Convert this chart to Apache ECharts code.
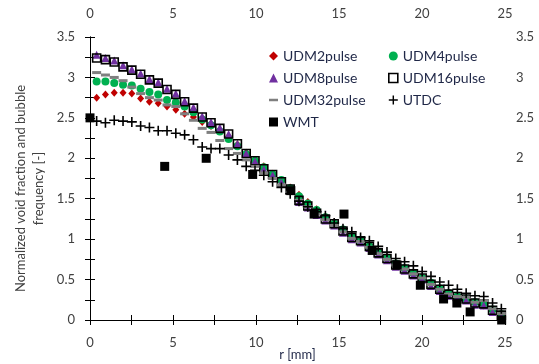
<!DOCTYPE html>
<html>
<head>
<meta charset="utf-8">
<script src="https://cdn.jsdelivr.net/npm/echarts@6/dist/echarts.min.js"></script>
<style>
  html, body { margin: 0; padding: 0; background: #fff; }
  #chart { width: 539px; height: 364px; }
</style>
</head>
<body>
<div id="chart"></div>
<script>
// radial positions [mm] of the UDM / UTDC profiles
const rUdm = [0.40, 0.93, 1.46, 1.99, 2.52, 3.05, 3.58, 4.11, 4.64, 5.17, 5.70, 6.23, 6.76, 7.29, 7.82, 8.35,
  8.88, 9.41, 9.94, 10.47, 11.00, 11.53, 12.06, 12.59, 13.12, 13.65, 14.18, 14.71, 15.24, 15.77, 16.30, 16.83,
  17.36, 17.89, 18.42, 18.95, 19.48, 20.01, 20.54, 21.07, 21.60, 22.13, 22.66, 23.19, 23.72, 24.25, 24.78];

const udm2 = [2.75, 2.79, 2.81, 2.81, 2.80, 2.74, 2.70, 2.68, 2.64, 2.60, 2.55, 2.51, 2.45, 2.40, 2.34, 2.27,
  2.17, 2.07, 1.98, 1.90, 1.81, 1.73, 1.64, 1.55, 1.46, 1.37, 1.28, 1.21, 1.12, 1.04, 0.99, 0.92,
  0.85, 0.78, 0.70, 0.64, 0.58, 0.52, 0.45, 0.38, 0.31, 0.27, 0.25, 0.20, 0.18, 0.11, 0.05];
const udm4 = [2.95, 2.95, 2.93, 2.91, 2.90, 2.86, 2.82, 2.79, 2.72, 2.69, 2.64, 2.57, 2.48, 2.41, 2.33, 2.24,
  2.15, 2.05, 1.97, 1.89, 1.80, 1.73, 1.63, 1.53, 1.44, 1.36, 1.27, 1.19, 1.12, 1.03, 0.98, 0.91,
  0.84, 0.77, 0.70, 0.64, 0.58, 0.52, 0.46, 0.39, 0.33, 0.29, 0.26, 0.22, 0.20, 0.13, 0.07];
const udm8 = [3.28, 3.24, 3.21, 3.15, 3.10, 3.05, 2.98, 2.94, 2.86, 2.80, 2.71, 2.63, 2.52, 2.45, 2.38, 2.30,
  2.18, 2.06, 1.96, 1.86, 1.79, 1.70, 1.61, 1.46, 1.39, 1.30, 1.23, 1.17, 1.08, 1.00, 0.96, 0.89,
  0.81, 0.74, 0.66, 0.61, 0.55, 0.50, 0.42, 0.36, 0.30, 0.27, 0.24, 0.19, 0.18, 0.10, 0.04];
const udm16 = [3.24, 3.22, 3.19, 3.13, 3.09, 3.04, 2.97, 2.93, 2.85, 2.79, 2.70, 2.62, 2.51, 2.44, 2.37, 2.30,
  2.18, 2.06, 1.97, 1.87, 1.80, 1.71, 1.62, 1.48, 1.41, 1.32, 1.25, 1.19, 1.10, 1.02, 0.98, 0.91,
  0.83, 0.76, 0.68, 0.63, 0.57, 0.52, 0.44, 0.38, 0.32, 0.29, 0.26, 0.21, 0.20, 0.12, 0.06];
const udm32 = [3.06, 3.03, 3.00, 2.96, 2.88, 2.80, 2.75, 2.72, 2.66, 2.64, 2.55, 2.47, 2.37, 2.32, 2.22, 2.12,
  2.06, 1.98, 1.90, 1.82, 1.75, 1.67, 1.58, 1.48, 1.40, 1.31, 1.24, 1.17, 1.09, 1.01, 0.97, 0.90,
  0.82, 0.75, 0.68, 0.63, 0.57, 0.52, 0.44, 0.38, 0.32, 0.29, 0.28, 0.22, 0.24, 0.14, 0.08];
const utdc = [2.46, 2.44, 2.47, 2.46, 2.45, 2.40, 2.38, 2.34, 2.34, 2.31, 2.29, 2.23, 2.14, 2.12, 2.12, 2.04,
  1.98, 1.90, 1.85, 1.79, 1.71, 1.64, 1.56, 1.47, 1.40, 1.34, 1.29, 1.20, 1.13, 1.09, 1.02, 0.98,
  0.91, 0.84, 0.76, 0.72, 0.67, 0.60, 0.54, 0.47, 0.43, 0.38, 0.33, 0.30, 0.29, 0.21, 0.14];

// wire-mesh sensor, own radial positions
const rWmt = [0.0, 4.5, 7.0, 9.8, 12.1, 13.5, 15.3, 17.0, 18.5, 19.9, 21.3, 22.1, 22.9, 24.8];
const wmt = [2.50, 1.90, 2.00, 1.80, 1.60, 1.31, 1.31, 0.86, 0.68, 0.43, 0.26, 0.21, 0.10, 0.00];

const xTicks = ['0', '5', '10', '15', '20', '25'];
const yTicks = ['0', '0.5', '1', '1.5', '2', '2.5', '3', '3.5'];

const pair = (xs, ys) => xs.map((x, i) => [x, ys[i]]);

const chart = echarts.init(document.getElementById('chart'));

const font = 'Lato, "Open Sans", sans-serif';
const tickColor = '#404040';
const legendColor = '#1f2747';

const plusPath = 'path://M4.2,0 H5.8 V4.2 H10 V5.8 H5.8 V10 H4.2 V5.8 H0 V4.2 H4.2 Z';
const dashIcon = 'path://M0,0 L0.01,0 Z M0,3.6 L10,3.6 L10,6.4 L0,6.4 Z M10,10 L9.99,10 Z';

const xLabel = (v) => (xTicks.includes(String(v)) ? String(v) : '');
const yLabel = (v) => {
  const s = String(Math.round(v * 100) / 100);
  return yTicks.includes(s) ? s : '';
};

const xBase = {
  type: 'value', min: 0, max: 25, interval: 2.5,
  axisLine: { lineStyle: { color: '#000', width: 1 } },
  axisTick: { inside: true, length: 5, lineStyle: { color: '#000' } },
  splitLine: { show: false },
  axisLabel: { color: tickColor, fontSize: 13, fontFamily: font, formatter: xLabel }
};
const yBase = {
  type: 'value', min: 0, max: 3.5, interval: 0.25,
  axisLine: { show: true, lineStyle: { color: '#000', width: 1 } },
  axisTick: { show: true, inside: true, length: 5, lineStyle: { color: '#000' } },
  splitLine: { show: false },
  axisLabel: { color: tickColor, fontSize: 13, fontFamily: font, formatter: yLabel }
};

const legendText = { color: legendColor, fontSize: 14, fontFamily: font };

const option = {
  backgroundColor: '#fff',
  animation: false,
  grid: { left: 90, right: 34, top: 37, bottom: 44, outerBoundsMode: 'none' },
  legend: [
    {
      orient: 'vertical', left: 264, top: 44, itemGap: 8,
      itemWidth: 9, itemHeight: 9, textStyle: legendText,
      data: [
        { name: 'UDM2pulse', icon: 'diamond' },
        { name: 'UDM8pulse', icon: 'triangle' },
        { name: 'UDM32pulse', icon: dashIcon },
        { name: 'WMT', icon: 'rect' }
      ]
    },
    {
      orient: 'vertical', left: 383, top: 44, itemGap: 8,
      itemWidth: 9, itemHeight: 9, textStyle: legendText,
      data: [
        { name: 'UDM4pulse', icon: 'circle' },
        { name: 'UDM16pulse', icon: 'rect' },
        { name: 'UTDC', icon: plusPath }
      ]
    }
  ],
  xAxis: [
    Object.assign({}, xBase, {
      position: 'bottom',
      name: 'r [mm]', nameLocation: 'middle', nameGap: 28, nameMoveOverlap: false,
      nameTextStyle: { color: legendColor, fontSize: 13, fontFamily: font },
      axisLabel: Object.assign({}, xBase.axisLabel, { margin: 16 })
    }),
    Object.assign({}, xBase, {
      position: 'top',
      axisLabel: Object.assign({}, xBase.axisLabel, { margin: 17 })
    })
  ],
  yAxis: [
    Object.assign({}, yBase, {
      position: 'left',
      name: 'Normalized void fraction and bubble\nfrequency [-]',
      nameLocation: 'middle', nameGap: 42, nameMoveOverlap: false,
      nameTextStyle: { color: tickColor, fontSize: 13, fontFamily: font, lineHeight: 18, padding: [0, 20, 0, 0] },
      axisLabel: Object.assign({}, yBase.axisLabel, { margin: 15 })
    }),
    Object.assign({}, yBase, {
      position: 'right',
      axisLabel: Object.assign({}, yBase.axisLabel, { margin: 11 })
    })
  ],
  series: [
    {
      name: 'UDM2pulse', type: 'scatter', data: pair(rUdm, udm2),
      symbol: 'diamond', symbolSize: [7, 8],
      itemStyle: { color: '#c00000', opacity: 1 }
    },
    {
      name: 'UDM4pulse', type: 'scatter', data: pair(rUdm, udm4),
      symbol: 'circle', symbolSize: 8,
      itemStyle: { color: '#00b050', opacity: 1 }
    },
    {
      name: 'UDM8pulse', type: 'scatter', data: pair(rUdm, udm8),
      symbol: 'triangle', symbolSize: [8, 8],
      itemStyle: { color: '#7030a0', opacity: 1 }
    },
    {
      name: 'UDM16pulse', type: 'scatter', data: pair(rUdm, udm16),
      symbol: 'rect', symbolSize: 8,
      itemStyle: { color: 'rgba(0,0,0,0)', borderColor: '#000', borderWidth: 1.6, opacity: 1 }
    },
    {
      name: 'UDM32pulse', type: 'scatter', data: pair(rUdm, udm32),
      symbol: 'rect', symbolSize: [9, 3],
      itemStyle: { color: '#7f7f7f', opacity: 1 }
    },
    {
      name: 'UTDC', type: 'scatter', data: pair(rUdm, utdc),
      symbol: plusPath, symbolSize: 10,
      itemStyle: { color: '#000', opacity: 1 }
    },
    {
      name: 'WMT', type: 'scatter', data: pair(rWmt, wmt),
      symbol: 'rect', symbolSize: 9,
      itemStyle: { color: '#000', opacity: 1 }
    }
  ]
};

// legend square for UDM16 is hollow with white fill
option.legend[1].data[1].itemStyle = { color: '#fff', borderColor: '#000', borderWidth: 1.6 };

chart.setOption(option);
</script>
</body>
</html>
